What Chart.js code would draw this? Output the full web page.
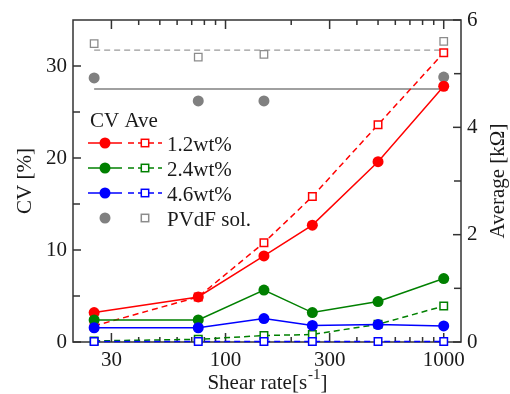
<!DOCTYPE html>
<html>
<head>
<meta charset="utf-8">
<script src="https://cdn.jsdelivr.net/npm/chart.js@4"></script>
<style>
  html, body { margin: 0; padding: 0; background: #fff; }
  #wrap { width: 510px; height: 394px; }
</style>
</head>
<body>
<div id="wrap"><canvas id="cv"></canvas></div>
<script>
// shear rate [1/s]
const shearRate = [25, 75, 150, 250, 500, 1000];
const pvdfRate = [25, 75, 150, 1000];

// CV [%] -> left axis
const cv12 = [3.2, 4.9, 9.35, 12.7, 19.6, 27.8];
const cv24 = [2.4, 2.4, 5.65, 3.2, 4.4, 6.9];
const cv46 = [1.55, 1.55, 2.55, 1.8, 1.9, 1.75];
const cvPvdf = [28.7, 26.2, 26.2, 28.8];
const cvPvdfMean = 27.5;

// average resistance [kOhm] -> right axis
const ave12 = [0.3, 0.84, 1.85, 2.71, 4.05, 5.39];
const ave24 = [0.02, 0.05, 0.12, 0.14, 0.33, 0.67];
const ave46 = [0.01, 0.01, 0.01, 0.01, 0.01, 0.01];
const avePvdf = [5.56, 5.31, 5.36, 5.6];
const avePvdfMean = 5.44;

// axes
const xTicks = [30, 100, 300, 1000];
const cvTicks = [0, 10, 20, 30];
const aveTicks = [0, 2, 4, 6];

const legendRows = [
  { label: '1.2wt%', color: '#ff0000' },
  { label: '2.4wt%', color: '#008000' },
  { label: '4.6wt%', color: '#0000ff' }
];

const FONT = "'Liberation Serif', 'Times New Roman', serif";
const RED = '#ff0000', GREEN = '#008000', BLUE = '#0000ff', GRAY = '#808080';

const pts = (xs, ys) => xs.map((x, i) => ({ x, y: ys[i] }));

function cvSet(label, data, color) {
  return {
    label, data: pts(shearRate, data), yAxisID: 'y',
    borderColor: color, backgroundColor: color, borderWidth: 1.5,
    pointStyle: 'circle', pointRadius: 5.5, pointBorderWidth: 0, clip: false
  };
}

function aveSet(label, data, color) {
  return {
    label, data: pts(shearRate, data), yAxisID: 'y1',
    borderColor: color, backgroundColor: '#ffffff', borderWidth: 1.5, borderDash: [6, 4],
    pointStyle: 'rect', pointRadius: 5.3, pointBorderWidth: 1.5,
    pointBorderColor: color, pointBackgroundColor: '#ffffff', clip: false
  };
}

const datasets = [
  cvSet('CV 4.6wt%', cv46, BLUE),
  aveSet('Ave 4.6wt%', ave46, BLUE),
  cvSet('CV 2.4wt%', cv24, GREEN),
  aveSet('Ave 2.4wt%', ave24, GREEN),
  cvSet('CV 1.2wt%', cv12, RED),
  aveSet('Ave 1.2wt%', ave12, RED),
  {
    label: 'CV PVdF', data: pts(pvdfRate, cvPvdf), yAxisID: 'y', showLine: false,
    backgroundColor: GRAY, borderColor: GRAY, pointStyle: 'circle', pointRadius: 5.5,
    pointBorderWidth: 0, clip: false
  },
  {
    label: 'Ave PVdF', data: pts(pvdfRate, avePvdf), yAxisID: 'y1', showLine: false,
    backgroundColor: '#ffffff', borderColor: '#8c8c8c', pointStyle: 'rect', pointRadius: 5.3,
    pointBorderWidth: 1.3, clip: false
  },
  {
    label: 'CV PVdF mean', yAxisID: 'y', pointRadius: 0, borderColor: GRAY, borderWidth: 1.3,
    data: [{ x: pvdfRate[0], y: cvPvdfMean }, { x: pvdfRate[pvdfRate.length - 1], y: cvPvdfMean }]
  },
  {
    label: 'Ave PVdF mean', yAxisID: 'y1', pointRadius: 0, borderColor: '#9a9a9a', borderWidth: 1.3,
    borderDash: [6, 4],
    data: [{ x: pvdfRate[0], y: avePvdfMean }, { x: pvdfRate[pvdfRate.length - 1], y: avePvdfMean }]
  }
];

// log tick positions 20..90, 200..900 (30 and 300 get the long mark)
const minorX = [];
for (const d of [10, 100, 1000]) {
  for (let m = 2; m < 10; m++) minorX.push(m * d);
}

// box, inward ticks, axis titles and legend
const decorations = {
  id: 'decorations',
  beforeDatasetsDraw(chart) {
    const { ctx, chartArea: a, scales } = chart;
    ctx.save();
    ctx.fillStyle = '#333333';
    ctx.strokeStyle = '#333333';
    ctx.lineWidth = 1.5;
    ctx.setLineDash([]);
    ctx.strokeRect(a.left, a.top, a.right - a.left, a.bottom - a.top);
    const sx = scales.x;
    const marks = minorX.concat([100, 1000]);
    marks.forEach(v => {
      const px = sx.getPixelForValue(v);
      if (!(px > a.left + 1 && px < a.right - 1)) return;
      const len = xTicks.includes(v) ? 9 : 5;
      ctx.fillRect(px - 0.75, a.top, 1.5, len);
      ctx.fillRect(px - 0.75, a.bottom - len, 1.5, len);
    });
    const yTicks = (scale, ticks, x, dir) => {
      const step = ticks[1] - ticks[0];
      ticks.forEach(v => {
        const py = scale.getPixelForValue(v);
        ctx.fillRect(dir > 0 ? x : x - 8, py - 0.75, 8, 1.5);
        const half = v + step / 2;
        if (half < scale.max) {
          const ph = scale.getPixelForValue(half);
          ctx.fillRect(dir > 0 ? x : x - 7, ph - 0.75, 7, 1.5);
        }
      });
    };
    yTicks(scales.y, cvTicks, a.left, 1);
    yTicks(scales.y1, aveTicks, a.right, -1);
    ctx.restore();
  },
  afterDraw(chart) {
    const { ctx, chartArea: a } = chart;
    ctx.save();
    ctx.fillStyle = '#1a1a1a';
    ctx.font = '21px ' + FONT;
    const midY = (a.top + a.bottom) / 2;

    // rotated y titles
    ctx.textAlign = 'center';
    ctx.textBaseline = 'middle';
    [[25, 'CV [%]'], [498, 'Average [kΩ]']].forEach(([x, t]) => {
      ctx.save();
      ctx.translate(x, midY);
      ctx.rotate(-Math.PI / 2);
      ctx.fillText(t, 0, 0);
      ctx.restore();
    });

    // x title with superscript
    ctx.textAlign = 'left';
    ctx.textBaseline = 'alphabetic';
    const main = 'Shear rate[s', sup = '-1', end = ']';
    const supFont = '15px ' + FONT;
    const w1 = ctx.measureText(main).width;
    const w3 = ctx.measureText(end).width;
    ctx.font = supFont;
    const w2 = ctx.measureText(sup).width;
    let x = (a.left + a.right) / 2 - (w1 + w2 + w3) / 2;
    const base = 389;
    ctx.font = '21px ' + FONT;
    ctx.fillText(main, x, base);
    x += w1 + 1;
    ctx.font = supFont;
    ctx.fillText(sup, x, base - 10);
    x += w2;
    ctx.font = '21px ' + FONT;
    ctx.fillText(end, x, base);

    // legend: solid line + filled circle (CV), dashed line + open square (Ave)
    const lx = a.left;
    ctx.fillText('CV Ave', lx + 17, a.top + 107);
    const rowY = a.top + 123;
    const rowGap = 25;
    const drawRow = (y, color, label, withLines, gray) => {
      ctx.lineWidth = 1.5;
      if (withLines) {
        ctx.strokeStyle = color;
        ctx.setLineDash([]);
        ctx.beginPath(); ctx.moveTo(lx + 15, y); ctx.lineTo(lx + 49, y); ctx.stroke();
        ctx.setLineDash([6, 4]);
        ctx.beginPath(); ctx.moveTo(lx + 55, y); ctx.lineTo(lx + 89, y); ctx.stroke();
        ctx.setLineDash([]);
      }
      ctx.fillStyle = gray ? GRAY : color;
      ctx.beginPath(); ctx.arc(lx + 32, y, 5.5, 0, Math.PI * 2); ctx.fill();
      ctx.fillStyle = '#ffffff';
      ctx.strokeStyle = gray ? '#8c8c8c' : color;
      ctx.fillRect(lx + 68.3, y - 3.7, 7.4, 7.4);
      ctx.strokeRect(lx + 68.3, y - 3.7, 7.4, 7.4);
      ctx.fillStyle = '#1a1a1a';
      ctx.font = '21px ' + FONT;
      ctx.fillText(label, lx + 94, y + 8);
    };
    legendRows.forEach((r, i) => drawRow(rowY + i * rowGap, r.color, r.label, true, false));
    drawRow(rowY + 3 * rowGap, GRAY, 'PVdF sol.', false, true);
    ctx.restore();
  }
};

const tickFont = { family: FONT, size: 21 };

new Chart(document.getElementById('cv'), {
  type: 'line',
  data: { datasets },
  options: {
    responsive: true,
    maintainAspectRatio: false,
    animation: false,
    devicePixelRatio: 1,
    layout: { padding: { top: 20, left: 0, right: 0, bottom: 0 } },
    plugins: { legend: { display: false }, tooltip: { enabled: false } },
    elements: { line: { tension: 0 } },
    scales: {
      x: {
        type: 'logarithmic', min: 20, max: 1200,
        grid: { display: false, drawTicks: false }, border: { display: false },
        ticks: { font: tickFont, color: '#1a1a1a', padding: 6, maxRotation: 0, autoSkip: false,
                 callback: v => String(v) },
        afterBuildTicks: s => { s.ticks = xTicks.map(v => ({ value: v })); },
        afterFit: s => { s.height = 52; }
      },
      y: {
        position: 'left', min: 0, max: 35,
        grid: { display: false, drawTicks: false }, border: { display: false },
        ticks: { font: tickFont, color: '#1a1a1a', padding: 6 },
        afterBuildTicks: s => { s.ticks = cvTicks.map(v => ({ value: v })); },
        afterFit: s => { s.width = 73; }
      },
      y1: {
        position: 'right', min: 0, max: 6,
        grid: { display: false, drawTicks: false }, border: { display: false },
        ticks: { font: tickFont, color: '#1a1a1a', padding: 6 },
        afterBuildTicks: s => { s.ticks = aveTicks.map(v => ({ value: v })); },
        afterFit: s => { s.width = 49; }
      }
    }
  },
  plugins: [decorations]
});
</script>
</body>
</html>
